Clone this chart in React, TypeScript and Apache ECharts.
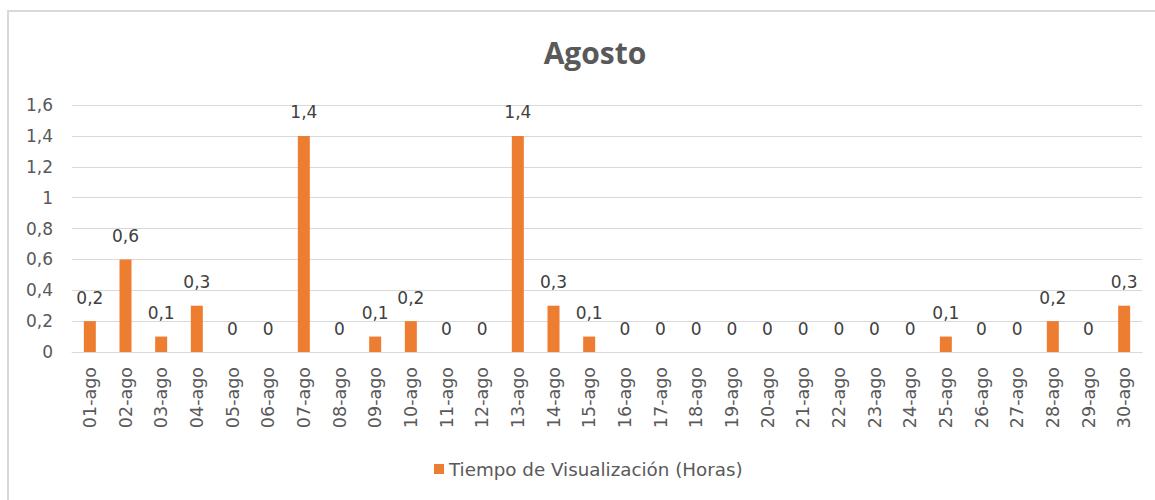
import React, { useEffect, useRef } from "react";
import * as echarts from "echarts";

const categories = [
  "01-ago", "02-ago", "03-ago", "04-ago", "05-ago", "06-ago", "07-ago", "08-ago", "09-ago", "10-ago",
  "11-ago", "12-ago", "13-ago", "14-ago", "15-ago", "16-ago", "17-ago", "18-ago", "19-ago", "20-ago",
  "21-ago", "22-ago", "23-ago", "24-ago", "25-ago", "26-ago", "27-ago", "28-ago", "29-ago", "30-ago",
];
const horas = [
  0.2, 0.6, 0.1, 0.3, 0, 0, 1.4, 0, 0.1, 0.2,
  0, 0, 1.4, 0.3, 0.1, 0, 0, 0, 0, 0,
  0, 0, 0, 0, 0.1, 0, 0, 0.2, 0, 0.3,
];
const seriesName = "Tiempo de Visualización (Horas)";
const chartTitle = "Agosto";

const fmt = (v: number) => String(Math.round(v * 10) / 10).replace(".", ",");
const FONT = "'DejaVu Sans', 'Noto Sans', sans-serif";
const TITLE_FONT = "'Open Sans', 'Noto Sans', sans-serif";

export default function App() {
  const ref = useRef<HTMLDivElement>(null);
  useEffect(() => {
    if (!ref.current) return;
    const chart = echarts.init(ref.current, undefined, { renderer: "svg" });
    chart.setOption({
      animation: false,
      backgroundColor: "#ffffff",
      textStyle: { fontFamily: FONT },
      title: {
        text: chartTitle,
        left: 590,
        textAlign: "center",
        top: 32,
        textStyle: { fontSize: 30, fontWeight: "bold", color: "#595959", fontFamily: TITLE_FONT },
      },
      graphic: [
        {
          type: "rect",
          shape: { x: 8, y: 11, width: 1160, height: 500 },
          style: { fill: "none", stroke: "#d9d9d9", lineWidth: 2 },
          silent: true,
        },
      ],
      legend: {
        top: 455,
        left: 429,
        itemWidth: 10,
        itemHeight: 10,
        icon: "rect",
        textStyle: { fontSize: 18.3, color: "#595959", fontFamily: FONT },
        data: [seriesName],
      },
      grid: { left: 72, right: 13, top: 105, bottom: 148, containLabel: false },
      xAxis: {
        type: "category",
        data: categories,
        axisTick: { show: false },
        axisLine: { show: true, lineStyle: { color: "#d9d9d9", width: 1 } },
        axisLabel: { rotate: 90, margin: 15, fontSize: 17.5, color: "#595959", fontFamily: FONT },
      },
      yAxis: {
        type: "value",
        min: 0,
        max: 1.6,
        interval: 0.2,
        axisLine: { show: false },
        axisTick: { show: false },
        splitLine: { lineStyle: { color: "#d9d9d9", width: 1 } },
        axisLabel: { margin: 19, fontSize: 17, color: "#595959", fontFamily: FONT, formatter: (v: number) => fmt(v) },
      },
      series: [
        {
          name: seriesName,
          type: "bar",
          data: horas,
          barWidth: 12,
          itemStyle: { color: "#ed7d31" },
          label: {
            show: true,
            position: "top",
            distance: 15,
            fontSize: 17,
            color: "#404040",
            fontFamily: FONT,
            formatter: (p: any) => fmt(p.value),
          },
        },
      ],
    });
    return () => chart.dispose();
  }, []);
  return <div ref={ref} style={{ position: "fixed", left: 0, top: 0, width: 1155, height: 500 }} />;
}
